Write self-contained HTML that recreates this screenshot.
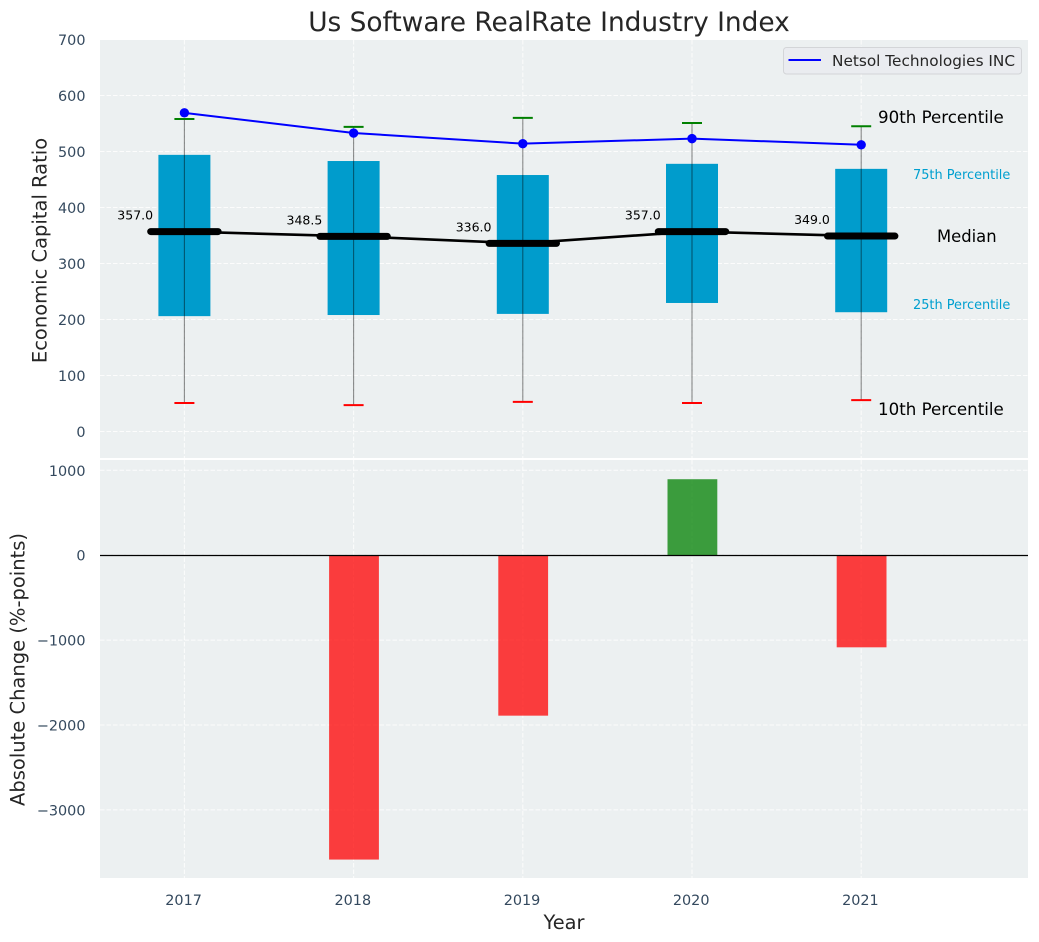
<!DOCTYPE html>
<html>
<head>
<meta charset="utf-8">
<title>Us Software RealRate Industry Index</title>
<style>
html,body{margin:0;padding:0;background:#fff;}
svg{display:block;font-family:"DejaVu Sans","Liberation Sans",sans-serif;}
</style>
</head>
<body>
<svg id="chart" width="1039" height="942" viewBox="0 0 1039 942" xmlns="http://www.w3.org/2000/svg">
  <rect x="100" y="40" width="928" height="418" fill="#ecf0f1"/>
  <rect x="100" y="460" width="928" height="418" fill="#ecf0f1"/>
  <g id="grid"></g>
  <g id="bars"></g>
  <g id="boxes"></g>
  <g id="lines"></g>
  <g id="ticks"></g>
  <g id="labels"></g>
  <text x="549" y="31" text-anchor="middle" font-size="26.4" fill="#262626">Us Software RealRate Industry Index</text>
  <text transform="translate(46.5,250.5) rotate(-90)" text-anchor="middle" font-size="19.5" fill="#262626">Economic Capital Ratio</text>
  <text transform="translate(24.5,669.5) rotate(-90)" text-anchor="middle" font-size="19.5" fill="#262626">Absolute Change (%-points)</text>
  <text x="564" y="929" text-anchor="middle" font-size="19.4" fill="#262626">Year</text>
  <text x="878" y="123" font-size="16.67" fill="#000">90th Percentile</text>
  <text x="913" y="179" font-size="12.9" fill="#009fcf">75th Percentile</text>
  <text x="937" y="242" font-size="16.4" fill="#000">Median</text>
  <text x="913" y="309" font-size="12.9" fill="#009fcf">25th Percentile</text>
  <text x="878" y="415" font-size="16.67" fill="#000">10th Percentile</text>
  <g>
    <rect x="783.5" y="47.5" width="238" height="26.5" rx="3" fill="#eaecf0" stroke="#d3d5d8" stroke-width="1"/>
    <line x1="788.5" y1="60" x2="821" y2="60" stroke="#0000ff" stroke-width="2"/>
    <text x="832" y="66" font-size="15.3" fill="#262626">Netsol Technologies INC</text>
  </g>
</svg>
<script>
const years = [2017, 2018, 2019, 2020, 2021];
const p90 = [558, 544, 560, 551, 545];
const p75 = [494, 483, 458, 478, 469];
const median = [357, 348.5, 336, 357, 349];
const p25 = [206, 208, 210, 229.5, 213];
const p10 = [51, 47, 53, 51, 56];
const company = [569, 533, 514, 523, 512];
const change = [0, -3585, -1890, 895, -1085];
const topTicks = [0, 100, 200, 300, 400, 500, 600, 700];
const bottomTicks = [-3000, -2000, -1000, 0, 1000];

const NS = 'http://www.w3.org/2000/svg';
const X = v => 184.4 + (v - 2017) * 169.2;
const YT = v => 431.5 - v * 0.56;
const YB = v => 555.2 - v * 0.0849;

function make(parent, tag, props) {
  const el = document.createElementNS(NS, tag);
  for (const k in props) el.setAttribute(k, props[k]);
  parent.appendChild(el);
  return el;
}

const grid = document.getElementById('grid');
const bars = document.getElementById('bars');
const boxes = document.getElementById('boxes');
const lines = document.getElementById('lines');
const ticks = document.getElementById('ticks');
const labels = document.getElementById('labels');
const gridStyle = {stroke: '#ffffff', 'stroke-width': 1, 'stroke-dasharray': '4.5 2', opacity: 0.85};
const tickFill = '#34495e';

topTicks.forEach(t => {
  const g = make(grid, 'line', {x1: 100, x2: 1028, y1: YT(t), y2: YT(t), ...gridStyle});
  
  
  const l = make(ticks, 'text', {x: 85.5, y: YT(t) + 5.5, 'text-anchor': 'end', 'font-size': 14.4, fill: tickFill});
  l.textContent = String(t);
  
  
});

bottomTicks.forEach(t => {
  const g = make(grid, 'line', {x1: 100, x2: 1028, y1: YB(t), y2: YB(t), ...gridStyle});
  
  
  const l = make(ticks, 'text', {x: 85.5, y: YB(t) + 5.5, 'text-anchor': 'end', 'font-size': 14.4, fill: tickFill});
  l.textContent = String(t).replace('-', '\u2212');
  
  
});

years.forEach(y => {
  const g1 = make(grid, 'line', {x1: X(y), x2: X(y), y1: 40, y2: 458, ...gridStyle});
  
  
  const g2 = make(grid, 'line', {x1: X(y), x2: X(y), y1: 460, y2: 878, ...gridStyle});
  
  
  const l = make(ticks, 'text', {x: X(y) - 0.8, y: 905, 'text-anchor': 'middle', 'font-size': 14.4, fill: tickFill});
  l.textContent = String(y);
  
  
});

years.forEach((y, i) => {
  const v = change[i];
  if (v === 0) return;
  const top = Math.min(YB(v), YB(0));
  const b = make(bars, 'rect', {x: X(y) - 24.5, y: top, width: 49.8, height: Math.abs(YB(v) - YB(0)), fill: v < 0 ? '#ff0000' : '#008000', 'fill-opacity': 0.75});
  
  
});

const zero = make(bars, 'line', {x1: 100, x2: 1028, y1: YB(0) + 0.3, y2: YB(0) + 0.3, stroke: '#000', 'stroke-width': 1.2});



years.forEach((y, i) => {
  const box = make(boxes, 'rect', {x: X(y) - 26, y: YT(p75[i]), width: 52, height: YT(p25[i]) - YT(p75[i]), fill: '#009ccc'});
  
  
  const whisker = make(boxes, 'line', {x1: X(y), x2: X(y), y1: YT(p90[i]), y2: YT(p10[i]), stroke: '#000', 'stroke-opacity': 0.45, 'stroke-width': 1.1});
  
  
  const hi = make(boxes, 'line', {x1: X(y) - 10, x2: X(y) + 10, y1: YT(p90[i]), y2: YT(p90[i]), stroke: '#008000', 'stroke-width': 2});
  
  
  const lo = make(boxes, 'line', {x1: X(y) - 10, x2: X(y) + 10, y1: YT(p10[i]), y2: YT(p10[i]), stroke: '#ff0000', 'stroke-width': 2});
  
  
});

const medPts = years.map((y, i) => X(y) + ',' + YT(median[i])).join(' ');
const medLine = make(lines, 'polyline', {points: medPts, fill: 'none', stroke: '#000', 'stroke-width': 2.6});



years.forEach((y, i) => {
  const m = make(lines, 'line', {x1: X(y) - 33.7, x2: X(y) + 33.7, y1: YT(median[i]), y2: YT(median[i]), stroke: '#000', 'stroke-width': 7, 'stroke-linecap': 'round'});
  
  
  const t = make(labels, 'text', {x: X(y) - 49.2, y: YT(median[i]) - 12, 'text-anchor': 'middle', 'font-size': 12.5, fill: '#000'});
  t.textContent = median[i].toFixed(1);
  
  
});

const coPts = years.map((y, i) => X(y) + ',' + YT(company[i])).join(' ');
const coLine = make(lines, 'polyline', {points: coPts, fill: 'none', stroke: '#0000ff', 'stroke-width': 2});



years.forEach((y, i) => {
  const p = make(lines, 'circle', {cx: X(y), cy: YT(company[i]), r: 4.7, fill: '#0000ff'});
  
  
});
</script>
</body>
</html>
